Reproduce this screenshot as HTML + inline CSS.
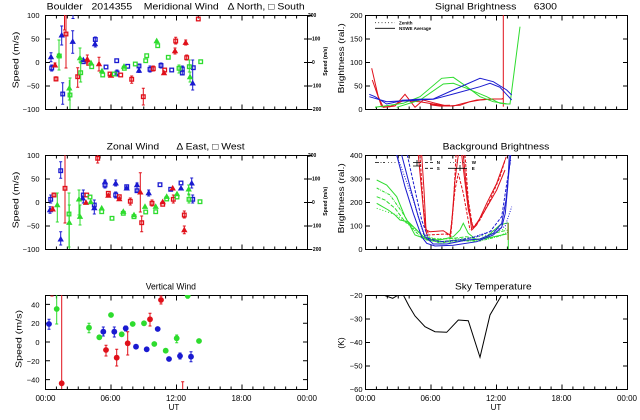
<!DOCTYPE html>
<html><head><meta charset="utf-8"><style>
html,body{margin:0;padding:0;background:#fff;}
svg{display:block;}
text{font-family:"Liberation Sans","DejaVu Sans",sans-serif;fill:#000;}
</style></head><body>
<svg width="640" height="420" viewBox="0 0 640 420" xmlns="http://www.w3.org/2000/svg">
<defs>
<path id="t" d="M0,-2.6L-2.5,1.8H2.5Z" stroke-width="0.8"/>
<rect id="s" x="-1.8" y="-1.8" width="3.6" height="3.6" fill="none" stroke-width="1.3"/>
<circle id="c" r="2.9"/>
<clipPath id="c1"><rect x="45" y="15" width="263" height="95"/></clipPath>
<clipPath id="c2"><rect x="365" y="15" width="263" height="95"/></clipPath>
<clipPath id="c3"><rect x="45" y="155" width="263" height="95"/></clipPath>
<clipPath id="c4"><rect x="365" y="155" width="263" height="95"/></clipPath>
<clipPath id="c5"><rect x="45" y="295" width="263" height="95"/></clipPath>
<clipPath id="c6"><rect x="365" y="295" width="263" height="95"/></clipPath>
</defs>
<rect width="640" height="420" fill="#fff"/>

<!-- ========== TITLES ========== -->
<text x="46.7" y="9.3" font-size="9" textLength="258" lengthAdjust="spacingAndGlyphs">Boulder&#160;&#160;&#160;2014355&#160;&#160;&#160;&#160;Meridional Wind&#160;&#160;&#160;Δ North, □ South</text>
<text x="435" y="9.3" font-size="9" textLength="122" lengthAdjust="spacingAndGlyphs">Signal Brightness&#160;&#160;&#160;&#160;&#160;&#160;6300</text>
<text x="106.7" y="149.3" font-size="9" textLength="138" lengthAdjust="spacingAndGlyphs">Zonal Wind&#160;&#160;&#160;&#160;&#160;&#160;Δ East, □ West</text>
<text x="442.7" y="149.3" font-size="9" textLength="106.6" lengthAdjust="spacingAndGlyphs">Background Brightness</text>
<text x="145.7" y="289.3" font-size="9" textLength="50.3" lengthAdjust="spacingAndGlyphs">Vertical Wind</text>
<text x="455" y="289.3" font-size="9" textLength="76.7" lengthAdjust="spacingAndGlyphs">Sky Temperature</text>

<!-- ========== AXIS TITLES ========== -->
<text transform="translate(18.5,60) rotate(-90)" font-size="8.5" text-anchor="middle" textLength="56.6" lengthAdjust="spacingAndGlyphs">Speed (m/s)</text>
<text transform="translate(18.5,200) rotate(-90)" font-size="8.5" text-anchor="middle" textLength="56.6" lengthAdjust="spacingAndGlyphs">Speed (m/s)</text>
<text transform="translate(21.7,339) rotate(-90)" font-size="8.5" text-anchor="middle" textLength="58" lengthAdjust="spacingAndGlyphs">Speed (m/s)</text>
<text transform="translate(344,58.3) rotate(-90)" font-size="8.5" text-anchor="middle" textLength="70" lengthAdjust="spacingAndGlyphs">Brightness (ral.)</text>
<text transform="translate(344,198.3) rotate(-90)" font-size="8.5" text-anchor="middle" textLength="70" lengthAdjust="spacingAndGlyphs">Brightness (ral.)</text>
<text transform="translate(344,343) rotate(-90)" font-size="8.5" text-anchor="middle">(K)</text>
<!-- tiny right-axis labels -->
<text transform="translate(327,61.3) rotate(-90)" font-size="5" font-weight="bold" text-anchor="middle" textLength="29" lengthAdjust="spacingAndGlyphs">Speed (m/s)</text>
<text transform="translate(327,201.3) rotate(-90)" font-size="5" font-weight="bold" text-anchor="middle" textLength="29" lengthAdjust="spacingAndGlyphs">Speed (m/s)</text>
<g font-size="5" font-weight="bold">
<text x="308" y="17">200</text><text x="312" y="40.5">100</text><text x="312" y="64">0</text><text x="310" y="87.5">−100</text><text x="310" y="111">−200</text>
<text x="308" y="157">200</text><text x="312" y="180.5">100</text><text x="312" y="204">0</text><text x="310" y="227.5">−100</text><text x="310" y="251">−200</text>
</g>

<!-- ========== Y TICK LABELS ========== -->
<g font-size="7.5" text-anchor="end">
<text x="39.5" y="18">100</text><text x="39.5" y="41.5">50</text><text x="39.5" y="65">0</text><text x="39.5" y="88.5">−50</text><text x="39.5" y="112">−100</text>
<text x="39.5" y="158">100</text><text x="39.5" y="181.5">50</text><text x="39.5" y="205">0</text><text x="39.5" y="228.5">−50</text><text x="39.5" y="252">−100</text>
<text x="39.5" y="307.4">40</text><text x="39.5" y="326.2">20</text><text x="39.5" y="345">0</text><text x="39.5" y="363.8">−20</text><text x="39.5" y="382.6">−40</text>
<text x="362.5" y="18">200</text><text x="362.5" y="41.5">150</text><text x="362.5" y="65">100</text><text x="362.5" y="88.5">50</text><text x="362.5" y="112">0</text>
<text x="362.5" y="158">400</text><text x="362.5" y="181.5">300</text><text x="362.5" y="205">200</text><text x="362.5" y="228.5">100</text><text x="362.5" y="252">0</text>
<text x="362.5" y="298">−20</text><text x="362.5" y="321.5">−30</text><text x="362.5" y="345">−40</text><text x="362.5" y="368.5">−50</text><text x="362.5" y="392">−60</text>
</g>

<!-- ========== X TICK LABELS ========== -->
<g font-size="8" text-anchor="middle">
<text x="45.5" y="401">00:00</text><text x="110.5" y="401">06:00</text><text x="176" y="401">12:00</text><text x="241.5" y="401">18:00</text><text x="307" y="401">00:00</text>
<text x="365.5" y="401">00:00</text><text x="430.5" y="401">06:00</text><text x="496" y="401">12:00</text><text x="561.5" y="401">18:00</text><text x="627" y="401">00:00</text>
<text x="174" y="410">UT</text><text x="496" y="410">UT</text>
</g>

<!-- ========== FRAMES & TICKS ========== -->
<g fill="none" stroke="#000" stroke-width="1">
<rect x="45.5" y="15.5" width="262" height="94"/>
<rect x="365.5" y="15.5" width="262" height="94"/>
<rect x="45.5" y="155.5" width="262" height="94"/>
<rect x="365.5" y="155.5" width="262" height="94"/>
<rect x="45.5" y="295.5" width="262" height="94"/>
<rect x="365.5" y="295.5" width="262" height="94"/>
</g>
<g fill="none" stroke="#000">
<g stroke-width="3.5" stroke-dasharray="1 9.9167">
<line x1="45" y1="108.25" x2="308" y2="108.25"/><line x1="365" y1="108.25" x2="628" y2="108.25"/>
<line x1="45" y1="248.25" x2="308" y2="248.25"/><line x1="365" y1="248.25" x2="628" y2="248.25"/>
<line x1="45" y1="388.25" x2="308" y2="388.25"/><line x1="365" y1="388.25" x2="628" y2="388.25"/>
<line x1="45" y1="16.75" x2="308" y2="16.75"/><line x1="365" y1="16.75" x2="628" y2="16.75"/>
<line x1="45" y1="156.75" x2="308" y2="156.75"/><line x1="365" y1="156.75" x2="628" y2="156.75"/>
<line x1="45" y1="296.75" x2="308" y2="296.75"/><line x1="365" y1="296.75" x2="628" y2="296.75"/>
</g>
<g stroke-width="5.5" stroke-dasharray="1 64.5">
<line x1="45" y1="107.25" x2="308" y2="107.25"/><line x1="365" y1="107.25" x2="628" y2="107.25"/>
<line x1="45" y1="247.25" x2="308" y2="247.25"/><line x1="365" y1="247.25" x2="628" y2="247.25"/>
<line x1="45" y1="387.25" x2="308" y2="387.25"/><line x1="365" y1="387.25" x2="628" y2="387.25"/>
<line x1="45" y1="17.75" x2="308" y2="17.75"/><line x1="365" y1="17.75" x2="628" y2="17.75"/>
<line x1="45" y1="157.75" x2="308" y2="157.75"/><line x1="365" y1="157.75" x2="628" y2="157.75"/>
<line x1="45" y1="297.75" x2="308" y2="297.75"/><line x1="365" y1="297.75" x2="628" y2="297.75"/>
</g>
<g stroke-width="5" stroke-dasharray="1 22.5">
<line x1="47.5" y1="15" x2="47.5" y2="110"/>
<line x1="367.5" y1="15" x2="367.5" y2="110"/><line x1="625.5" y1="15" x2="625.5" y2="110"/>
<line x1="47.5" y1="155" x2="47.5" y2="250"/>
<line x1="367.5" y1="155" x2="367.5" y2="250"/><line x1="625.5" y1="155" x2="625.5" y2="250"/>
<line x1="367.5" y1="295" x2="367.5" y2="390"/><line x1="625.5" y1="295" x2="625.5" y2="390"/>
</g>
<g stroke-width="8" stroke-dasharray="1 22.5">
<line x1="308" y1="15" x2="308" y2="110"/><line x1="308" y1="155" x2="308" y2="250"/>
</g>
<g stroke-width="5" stroke-dasharray="1 17.8">
<line x1="47.5" y1="303.9" x2="47.5" y2="381"/><line x1="305.5" y1="303.9" x2="305.5" y2="381"/>
</g>
</g>

<!-- ========== MERIDIONAL WIND ========== -->
<g clip-path="url(#c1)" stroke-width="1">
<g stroke="#1a1ad0" fill="#1a1ad0">
<path fill="none" d="M51 52.7V61.7M49.5 52.7h3M49.5 61.7h3M51.7 65V71M50.2 65h3M50.2 71h3M61.7 26V45M60.2 26h3M60.2 45h3M62.7 82.7V104.3M61.2 82.7h3M61.2 104.3h3M72.7 30.7V53.3M71.2 30.7h3M71.2 53.3h3M73 15V18.5M71.5 18.5h3M95.3 37V47M93.8 37h3M93.8 47h3M117 70V76M115.5 70h3M115.5 76h3M139 64V72.5M137.5 64h3M137.5 72.5h3M150 66V72M148.5 66h3M148.5 72h3M161 63V68M159.5 63h3M159.5 68h3M182.3 66V75M180.8 66h3M180.8 75h3M192.7 60V90M191.2 60h3M191.2 90h3"/>
<use href="#t" x="51" y="57"/><use href="#s" x="51.7" y="68"/><use href="#t" x="61.7" y="35.3"/><use href="#s" x="62.7" y="94"/><use href="#t" x="72.7" y="41.7"/><use href="#s" x="83.3" y="61.7"/><use href="#t" x="83.3" y="60"/><use href="#s" x="95.3" y="39.5"/><use href="#t" x="95" y="44"/><use href="#s" x="106" y="67"/><use href="#s" x="116.7" y="60.7"/><use href="#s" x="117" y="73"/><use href="#s" x="127.7" y="66.3"/><use href="#s" x="139" y="66"/><use href="#t" x="139" y="70.5"/><use href="#s" x="150" y="69.3"/><use href="#s" x="161" y="65.5"/><use href="#s" x="171.7" y="70"/><use href="#s" x="182.3" y="69"/><use href="#s" x="182.3" y="73"/><use href="#t" x="192.7" y="83.3"/><use href="#s" x="193.3" y="67.7"/>
</g>
<g stroke="#e0101a" fill="#e0101a">
<path fill="none" d="M55 63V67M53.5 63h3M53.5 67h3M56 76.7V81M54.5 76.7h3M54.5 81h3M66 15V68M64.5 68h3M64.5 15V30M63 30h3M77.7 67.7V87.3M76.2 67.7h3M76.2 87.3h3M87.3 55V63M85.8 55h3M85.8 63h3M99 57.3V71M97.5 57.3h3M97.5 71h3M131.7 76V83.3M130.2 76h3M130.2 83.3h3M143.3 88.3V105M141.8 88.3h3M141.8 105h3M153.3 66V71M151.8 66h3M151.8 71h3M175.7 37.3V44M174.2 37.3h3M174.2 44h3M175 48V54M173.5 48h3M173.5 54h3M185.7 40V45M184.2 40h3M184.2 45h3M186.7 55V60M185.2 55h3M185.2 60h3"/>
<use href="#t" x="55" y="65.3"/><use href="#s" x="56" y="79"/><use href="#s" x="66" y="34"/><use href="#s" x="77.7" y="76.7"/><use href="#t" x="87.3" y="59.3"/><use href="#s" x="88.7" y="63.3"/><use href="#t" x="99" y="64"/><use href="#s" x="110" y="74"/><use href="#t" x="111" y="75.5"/><use href="#s" x="120.7" y="75"/><use href="#s" x="131.7" y="79.3"/><use href="#s" x="143.3" y="96.7"/><use href="#s" x="153.3" y="68.7"/><use href="#s" x="164.7" y="70"/><use href="#t" x="164" y="73"/><use href="#s" x="175.7" y="41"/><use href="#t" x="175" y="51"/><use href="#t" x="185.7" y="42.7"/><use href="#s" x="186.7" y="57.7"/><use href="#s" x="198.3" y="19"/>
</g>
<g stroke="#2edc2e" fill="#2edc2e">
<path fill="none" d="M59 40V70M57.5 40h3M57.5 70h3M70 78V109M68.5 78h3M69.3 80V100M67.8 100h3M80.7 63V82M79.2 63h3M79.2 82h3M80 48V62M78.5 48h3M78.5 62h3M179 65V73M177.5 65h3M177.5 73h3M189.3 60V72M187.8 60h3M187.8 72h3M190 72V82M188.5 72h3M188.5 82h3"/>
<use href="#t" x="59" y="55"/><use href="#s" x="59.3" y="56"/><use href="#s" x="70" y="95"/><use href="#t" x="69.3" y="88.3"/><use href="#s" x="80.7" y="72.7"/><use href="#t" x="80" y="58"/><use href="#s" x="91.7" y="66.7"/><use href="#t" x="91" y="63"/><use href="#t" x="102" y="71"/><use href="#s" x="102.7" y="75"/><use href="#s" x="114.3" y="74"/><use href="#s" x="124.3" y="68.3"/><use href="#t" x="124" y="66.5"/><use href="#s" x="135.3" y="64"/><use href="#s" x="145.7" y="60.7"/><use href="#s" x="146.7" y="55.7"/><use href="#t" x="156.7" y="41"/><use href="#s" x="157.7" y="45.7"/><use href="#s" x="168.3" y="57.3"/><use href="#s" x="179" y="68.3"/><use href="#s" x="189.3" y="66.7"/><use href="#t" x="190" y="77"/><use href="#s" x="200.7" y="61.7"/>
</g>
</g>

<!-- ========== ZONAL WIND ========== -->
<g clip-path="url(#c3)" stroke-width="1">
<g stroke="#1a1ad0" fill="#1a1ad0">
<path fill="none" d="M50 206.7V213.3M48.5 206.7h3M48.5 213.3h3M50.7 195V203M49.2 195h3M49.2 203h3M60.7 231.7V245M59.2 231.7h3M59.2 245h3M60.7 161.7V178.3M59.2 161.7h3M59.2 178.3h3M83.3 190V203M81.8 190h3M81.8 203h3M94.3 200V214M92.8 200h3M92.8 214h3M105 180V188M103.5 180h3M103.5 188h3M115.7 180V186M114.2 180h3M114.2 186h3M115.7 192V198M114.2 192h3M114.2 198h3M137 183V192M135.5 183h3M135.5 192h3M148.7 190V196M147.2 190h3M147.2 196h3M191.7 178V188M190.2 178h3M190.2 188h3M192.7 195V203M191.2 195h3M191.2 203h3"/>
<use href="#t" x="50" y="210"/><use href="#s" x="50.7" y="199.3"/><use href="#t" x="60.7" y="239.3"/><use href="#s" x="60.7" y="170.7"/><use href="#s" x="83.3" y="195"/><use href="#t" x="82.7" y="198.3"/><use href="#s" x="94.3" y="205"/><use href="#t" x="94.3" y="208"/><use href="#s" x="105" y="185"/><use href="#t" x="105" y="182"/><use href="#t" x="115.7" y="183.3"/><use href="#s" x="115.7" y="195"/><use href="#s" x="126.7" y="186.7"/><use href="#t" x="126.7" y="188.3"/><use href="#t" x="137" y="185"/><use href="#s" x="137" y="190.7"/><use href="#t" x="148.7" y="193"/><use href="#s" x="160" y="184.7"/><use href="#s" x="170.7" y="189.3"/><use href="#s" x="181" y="183"/><use href="#t" x="181" y="188.3"/><use href="#t" x="191.7" y="183.3"/><use href="#s" x="192.7" y="199.3"/>
</g>
<g stroke="#e0101a" fill="#e0101a">
<path fill="none" d="M52.7 207V211M51.2 207h3M51.2 211h3M54 193V197M52.5 193h3M52.5 197h3M65 155V223M63.5 223h3M97.7 155V163M96.2 163h3M130.3 198V205M128.8 198h3M128.8 205h3M140.3 172.7V212M138.8 172.7h3M138.8 212h3M141.7 216V231.7M140.2 216h3M140.2 231.7h3M152 200V206M150.5 200h3M150.5 206h3M173.3 195V203M171.8 195h3M171.8 203h3M184.3 211V218M182.8 211h3M182.8 218h3M184.3 226V233.7M182.8 226h3M182.8 233.7h3"/>
<use href="#t" x="52.7" y="209.3"/><use href="#s" x="54" y="195"/><use href="#s" x="65" y="188.3"/><use href="#t" x="86" y="202.7"/><use href="#s" x="86.7" y="195"/><use href="#s" x="97.7" y="158.3"/><use href="#s" x="108.3" y="193.3"/><use href="#t" x="108.3" y="195.5"/><use href="#s" x="119.3" y="196.7"/><use href="#t" x="119.3" y="199"/><use href="#s" x="130.3" y="201.3"/><use href="#t" x="140.3" y="192.3"/><use href="#s" x="141.7" y="222.7"/><use href="#s" x="152" y="203.3"/><use href="#s" x="162.7" y="204.3"/><use href="#t" x="162.7" y="202"/><use href="#t" x="172.7" y="188.3"/><use href="#s" x="173.3" y="199.3"/><use href="#s" x="184.3" y="215"/><use href="#t" x="184.3" y="230"/>
</g>
<g stroke="#2edc2e" fill="#2edc2e">
<path fill="none" d="M57.3 193V222M55.8 193h3M55.8 222h3M69 193V247M67.5 193h3M67.5 247h3M69.3 205V249M67.8 205h3M79 190V215M77.5 190h3M77.5 215h3M80 205V225M78.5 205h3M78.5 225h3M188.7 185V194M187.2 185h3M187.2 194h3M189 195V203M187.5 195h3M187.5 203h3"/>
<use href="#t" x="57.3" y="205"/><use href="#s" x="69" y="214"/><use href="#t" x="69.3" y="222.7"/><use href="#t" x="79" y="199.3"/><use href="#t" x="80" y="216.7"/><use href="#s" x="90" y="197"/><use href="#t" x="90.7" y="202"/><use href="#s" x="101.7" y="211.7"/><use href="#t" x="101.7" y="208.3"/><use href="#s" x="112" y="218.3"/><use href="#s" x="123.3" y="213.3"/><use href="#t" x="123.3" y="211.7"/><use href="#s" x="134" y="216.7"/><use href="#t" x="134" y="215"/><use href="#s" x="145.7" y="212"/><use href="#t" x="145" y="206.7"/><use href="#s" x="155.7" y="211.7"/><use href="#t" x="155.7" y="206.7"/><use href="#s" x="166.7" y="199"/><use href="#t" x="166.7" y="196.7"/><use href="#s" x="177" y="197"/><use href="#t" x="177" y="194"/><use href="#t" x="188.7" y="189.3"/><use href="#s" x="189" y="199.3"/><use href="#s" x="200" y="201.7"/>
</g>
</g>

<!-- ========== VERTICAL WIND ========== -->
<g clip-path="url(#c5)" stroke-width="1">
<g stroke="#1a1ad0" fill="#1a1ad0">
<path fill="none" d="M49 319.3V329.3M47.5 319.3h3M47.5 329.3h3M103.3 327V336M101.8 327h3M101.8 336h3M114.3 327V337M112.8 327h3M112.8 337h3M125.7 326V331M124.2 326h3M124.2 331h3M180 353V359M178.5 353h3M178.5 359h3M191 351.7V361.7M189.5 351.7h3M189.5 361.7h3"/>
<g stroke="none"><use href="#c" x="49" y="324"/><use href="#c" x="103.3" y="331.7"/><use href="#c" x="114.3" y="331.7"/><use href="#c" x="125.7" y="328.3"/><use href="#c" x="136" y="346.7"/><use href="#c" x="146.7" y="349.3"/><use href="#c" x="157.7" y="329"/><use href="#c" x="169" y="359"/><use href="#c" x="180" y="356"/><use href="#c" x="191" y="356.7"/></g>
</g>
<g stroke="#2edc2e" fill="#2edc2e">
<path fill="none" d="M56.7 295V324M55.2 324h3M89 323.3V332.7M87.5 323.3h3M87.5 332.7h3M176.7 335V342.7M175.2 335h3M175.2 342.7h3M187.7 295V298.3M186.2 298.3h3"/>
<g stroke="none"><use href="#c" x="56.7" y="309"/><use href="#c" x="89" y="327.7"/><use href="#c" x="99.3" y="337.3"/><use href="#c" x="111" y="315"/><use href="#c" x="121.7" y="334.3"/><use href="#c" x="132.7" y="324"/><use href="#c" x="144" y="323.3"/><use href="#c" x="154.3" y="344"/><use href="#c" x="165.7" y="350.7"/><use href="#c" x="176.7" y="338.3"/><use href="#c" x="187.7" y="295.7"/><use href="#c" x="199" y="341"/></g>
</g>
<g stroke="#e0101a" fill="#e0101a">
<path fill="none" d="M50.5 296h3M61.7 295V389M106 345.3V356M104.5 345.3h3M104.5 356h3M116.7 349.3V366M115.2 349.3h3M115.2 366h3M127.7 331.7V355M126.2 331.7h3M126.2 355h3M150 313.3V326M148.5 313.3h3M148.5 326h3M161 296V304M159.5 296h3M159.5 304h3M182.7 381.7V389M181.2 381.7h3"/>
<g stroke="none"><use href="#c" x="61.7" y="383.3"/><use href="#c" x="106" y="350"/><use href="#c" x="116.7" y="357.7"/><use href="#c" x="127.7" y="343.3"/><use href="#c" x="150" y="319.3"/><use href="#c" x="161" y="300"/></g>
</g>
</g>

<!-- ========== SIGNAL BRIGHTNESS ========== -->
<g clip-path="url(#c2)" fill="none" stroke-width="1">
<g stroke="#e0101a">
<polyline points="371.7,68.3 378.3,96.7 383.3,107.3 395,106 405,94.3 415,107.3 423.3,100 433.3,102.7 446.7,106 460,105.3 470,101.7 480,100 493.3,99 502.7,99"/>
<polyline points="372.3,80 381.7,106.7 390,106.7 403.3,100.7 420,101.7 433.3,104 446.7,106 453.3,106 463.3,103.3 476.7,100 493.3,99 501.7,99 503.3,98.3"/>
<polyline points="430,104.5 440,105.8 450,105.5" stroke-width="1.6"/>
<line x1="503.3" y1="15" x2="503.3" y2="106.7"/>
</g>
<g stroke="#2edc2e">
<polyline points="375,107.3 403.3,103.3 420,96.7 441.7,78.3 453.3,77.3 466.7,86.7 480,96.7 493.3,101.7 507.7,104 510,104 520,26.7"/>
<polyline points="396.7,107.3 420,100 443.3,84 453.3,83.3 466.7,88.3 486.7,96.7 500,103.3 506.7,104"/>
</g>
<g stroke="#1a1ad0">
<polyline points="369.3,94.3 375,96.7 386.7,104 401.7,100.7 416.7,99.3 433.3,99 453.3,90 480,78.3 493.3,81.7 506.7,90 511.7,95"/>
<polyline points="369.3,96.7 386.7,101.7 403.3,100.7 433.3,99.3 453.3,94 480,86.7 490,83.3 500,87.3 511.7,100"/>
<line x1="401.7" y1="100.7" x2="416.7" y2="100" stroke-width="1.8"/>
</g>
</g>
<g stroke="#000" stroke-width="0.8">
<line x1="375" y1="22.7" x2="395" y2="22.7" stroke-dasharray="0.8 2.5"/>
<line x1="375" y1="28.3" x2="395" y2="28.3"/>
</g>
<g font-size="4.5" font-weight="bold"><text x="399" y="24.5">Zenith</text><text x="399" y="30">NSWE Average</text></g>

<!-- ========== BACKGROUND BRIGHTNESS ========== -->
<g clip-path="url(#c4)" fill="none" stroke-width="1">
<g stroke="#2edc2e">
<polyline points="376.7,180 386.7,185 396.7,196.7 405,216.7 415,235 426.7,239.3 440,240 453.3,236.7 460,230 463.3,223.3 468.3,233.3 476.7,240 486.7,236.7 500,225 508.3,222.7"/>
<polyline points="376.7,196.7 385,200 395,208.3 405,221.7 413.3,226.7 423.3,236.7 436.7,239.3 453.3,238.3 466.7,236.7 480,240 493.3,233.3 508.3,230" stroke-dasharray="4 1.5"/>
<polyline points="376.7,203.3 388.3,210 395,215 400,220 408.3,221.7 416.7,230 426.7,240 440,241.7 456.7,240 473.3,240 486.7,238.3 506.7,234"/>
<polyline points="376.7,208.3 386.7,211.7 396.7,215 406.7,223.3 420,233.3 433.3,238.3 450,239 470,238.3 486.7,235 506.7,228.3" stroke-dasharray="1 2"/>
<polyline points="376.7,188 390,195 402,212 412,228 422,238 440,243 460,241 480,241 500,236 508,232" stroke-dasharray="3 1 1 1"/>
<line x1="508.3" y1="223" x2="508.3" y2="249"/>
</g>
<g stroke="#1a1ad0">
<polyline points="396.7,155 405,186.7 413.3,213.3 421.7,236.7 426.7,243.3 435,246 453.3,245.3 476.7,241.7 493.3,235 501.7,227.3 505.3,213.3 507.7,186.7 509.3,155"/>
<polyline points="401.7,155 410,186.7 418.3,216.7 425,236.7 433.3,244 446.7,244 466.7,240 480,239 493.3,233.3 501.7,223.3 506,200 510.7,155"/>
<polyline points="407.3,155 415,190 421.7,220 428.3,238.3 440,241.7 460,240 476.7,236.7 490,231.7 501.7,216.7 507.3,180 510.7,160" stroke-dasharray="3 1.5"/>
<polyline points="396.7,155 413.3,200 423.3,233.3 430,240 445,242 470,238 495,230 505,226.7 511.7,206.7" stroke-dasharray="1 1.5"/>
</g>
<g stroke="#e0101a">
<polyline points="421.7,155 424,190 426,230 430,231.7 443.3,230.7 450,235 451.7,223.3 455,180 458.3,155"/>
<polyline points="420,155 423.3,206.7 426.7,235 446.7,234 450.7,236.7 453.3,206.7 456,155" stroke-dasharray="3 1.5"/>
<polyline points="463.3,155 466.7,190 471.7,230 476.7,225 486.7,203.3 496.7,183.3 505,160"/>
<polyline points="465,155 468.3,200 472.7,227.3 480,220 490,200 500,176.7 506.7,155" stroke-dasharray="3 1.5"/>
<polyline points="461.7,155 468.3,210 473.3,228.3 483.3,213.3 496.7,190 505,170"/>
<polyline points="450,236.7 455,190 458.3,173.3 463.3,193.3 470,230" stroke-dasharray="3 1.5"/>
<polyline points="418.3,155 425,226.7 428.3,233.3"/>
<line x1="508" y1="223" x2="508" y2="240" stroke="#8a5a10"/>
</g>
</g>
<g stroke="#000" stroke-width="0.8" fill="none">
<line x1="375" y1="162.5" x2="385" y2="162.5" stroke-dasharray="4 1.5 1 1.5"/>
<line x1="388" y1="162.5" x2="396" y2="162.5" stroke-dasharray="0.8 2.5"/>
<path d="M413 162.5h8M417 160v6M413 166h8"/>
<path d="M425 162.5h10M425 168.3h10" stroke-dasharray="3 2"/>
<line x1="450" y1="162.5" x2="467" y2="162.5" stroke-dasharray="0.8 2.5"/>
<path d="M448 168.3h19M460 165v6"/>
</g>
<g font-size="4.5" font-weight="bold"><text x="436.7" y="164">N</text><text x="436.7" y="170">S</text><text x="471.7" y="164">W</text><text x="471.7" y="170">E</text></g>

<!-- ========== SKY TEMPERATURE ========== -->
<g clip-path="url(#c6)">
<polyline fill="none" stroke="#000" stroke-width="1" points="383.3,295 392.7,298.3 398.3,295 403.3,295 409,306 415,316 425,326.7 435,331.7 446.7,332.3 458.3,320 468.3,320.7 480,357.3 490,315 501.7,295"/>
</g>
</svg>
</body></html>
